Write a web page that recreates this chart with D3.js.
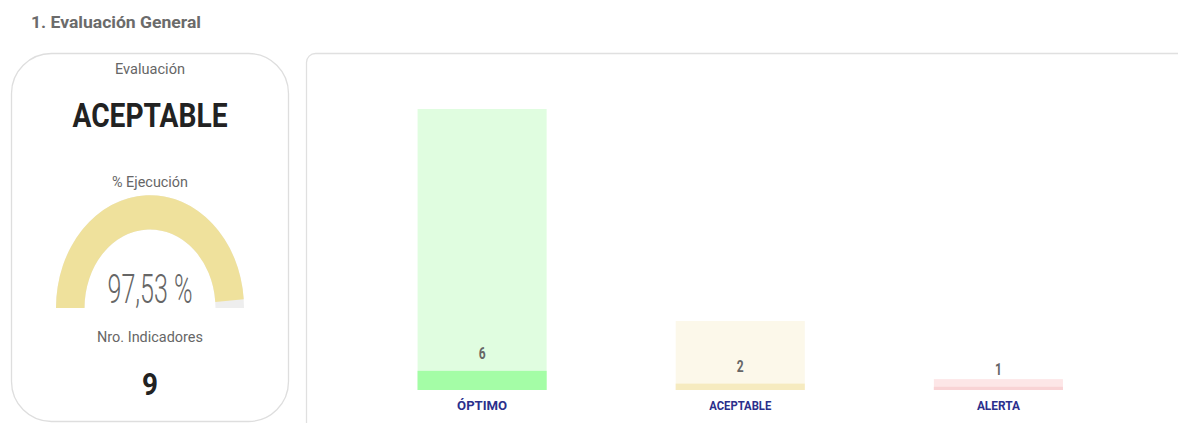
<!DOCTYPE html>
<html>
<head>
<meta charset="utf-8">
<script src="https://cdn.jsdelivr.net/npm/d3@7"></script>
<style>
  body { margin: 0; background: #fff; }
  text { font-family: Roboto, 'Open Sans', sans-serif; }
</style>
</head>
<body>
<div id="chart"></div>
<script>
const width = 1178
const height = 423

// data
const categories = ['ÓPTIMO', 'ACEPTABLE', 'ALERTA']
const counts = [6, 2, 1]
const backgroundValues = [88, 21.6, 3.4]
const lightColors = ['#e0fde0', '#fcf8ea', '#fde6e7']
const darkColors = ['#a4fda6', '#f6ebc0', '#f9d3d5']
const evaluation = 'ACEPTABLE'
const execution = 97.53
const indicators = 9

const svg = d3
  .select('#chart')
  .append('svg')
  .attr('width', width)
  .attr('height', height)

svg
  .append('text')
  .text('1. Evaluación General')
  .attr('x', 31)
  .attr('y', 28)
  .attr('font-size', 16)
  .attr('font-weight', 700)
  .attr('fill', '#6b6b6b')
  .attr('textLength', 170)
  .attr('lengthAdjust', 'spacingAndGlyphs')

// left card
const card = svg.append('g')
card
  .append('rect')
  .attr('x', 11.5)
  .attr('y', 53.5)
  .attr('width', 277)
  .attr('height', 368)
  .attr('rx', 40)
  .attr('fill', '#fff')
  .attr('stroke', '#dedede')
  .attr('stroke-width', 1.3)

const cx = 150
function cardText(str, y, size, weight, color, len) {
  card
    .append('text')
    .text(str)
    .attr('x', cx)
    .attr('y', y)
    .attr('text-anchor', 'middle')
    .attr('font-size', size)
    .attr('font-weight', weight)
    .attr('fill', color)
    .attr('textLength', len)
    .attr('lengthAdjust', 'spacingAndGlyphs')
}

cardText('Evaluación', 74, 14, 400, '#666', 70)
cardText(evaluation, 127, 33, 700, '#222', 155)
cardText('% Ejecución', 187, 14, 400, '#666', 76)
cardText(d3.format('.2f')(execution).replace('.', ',') + ' %', 303, 41, 300, '#666', 85)
cardText('Nro. Indicadores', 342, 14, 400, '#666', 106)
cardText(indicators, 395, 32, 700, '#222', 16)

// gauge
const angleScale = d3.scaleLinear().domain([0, 100]).range([-Math.PI / 2, Math.PI / 2])
const gaugeArc = d3.arc().innerRadius(65.5).outerRadius(94)
const gauge = card.insert('g', 'text').attr('transform', `translate(${cx},308) scale(1,1.2)`)
gauge
  .append('path')
  .attr('d', gaugeArc({ startAngle: angleScale(0), endAngle: angleScale(100) }))
  .attr('fill', '#eeeeee')
gauge
  .append('path')
  .attr('d', gaugeArc({ startAngle: angleScale(0), endAngle: angleScale(execution) }))
  .attr('fill', '#efe19c')

// right panel
svg
  .append('rect')
  .attr('x', 306.5)
  .attr('y', 53.5)
  .attr('width', 920)
  .attr('height', 420)
  .attr('rx', 9)
  .attr('fill', '#fff')
  .attr('stroke', '#e0e0e0')
  .attr('stroke-width', 1.3)

const xScale = d3
  .scaleBand()
  .domain(categories)
  .range([288.5, 1192])
  .padding(0.5)

const yScale = d3.scaleLinear().domain([0, 88]).range([390, 109])

const rows = categories.map((c, i) => ({
  cat: c,
  count: counts[i],
  bg: backgroundValues[i],
  light: lightColors[i],
  dark: darkColors[i]
}))

const bars = svg.append('g')
bars
  .selectAll('.bg-bar')
  .data(rows)
  .enter()
  .append('rect')
  .attr('x', d => xScale(d.cat))
  .attr('width', xScale.bandwidth())
  .attr('y', d => yScale(d.bg))
  .attr('height', d => yScale(0) - yScale(d.bg))
  .attr('fill', d => d.light)

bars
  .selectAll('.value-bar')
  .data(rows)
  .enter()
  .append('rect')
  .attr('x', d => xScale(d.cat))
  .attr('width', xScale.bandwidth())
  .attr('y', d => yScale(d.count))
  .attr('height', d => yScale(0) - yScale(d.count))
  .attr('fill', d => d.dark)

bars
  .selectAll('.value-label')
  .data(rows)
  .enter()
  .append('text')
  .text(d => d.count)
  .attr('x', d => xScale(d.cat) + xScale.bandwidth() / 2)
  .attr('y', d => yScale(d.count) - 11.5)
  .attr('text-anchor', 'middle')
  .attr('font-size', 16)
  .attr('font-weight', 700)
  .attr('fill', '#666')
  .attr('transform-origin', d => `${xScale(d.cat) + xScale.bandwidth() / 2} 0`)
  .attr('transform', 'scale(0.75,1)')

const catWidths = [50, 62, 43]
bars
  .selectAll('.cat-label')
  .data(rows)
  .enter()
  .append('text')
  .text(d => d.cat)
  .attr('x', d => xScale(d.cat) + xScale.bandwidth() / 2)
  .attr('y', 410)
  .attr('text-anchor', 'middle')
  .attr('font-size', 12)
  .attr('font-weight', 700)
  .attr('fill', '#2b2f8c')
  .attr('textLength', (d, i) => catWidths[i])
  .attr('lengthAdjust', 'spacingAndGlyphs')
</script>
</body>
</html>
